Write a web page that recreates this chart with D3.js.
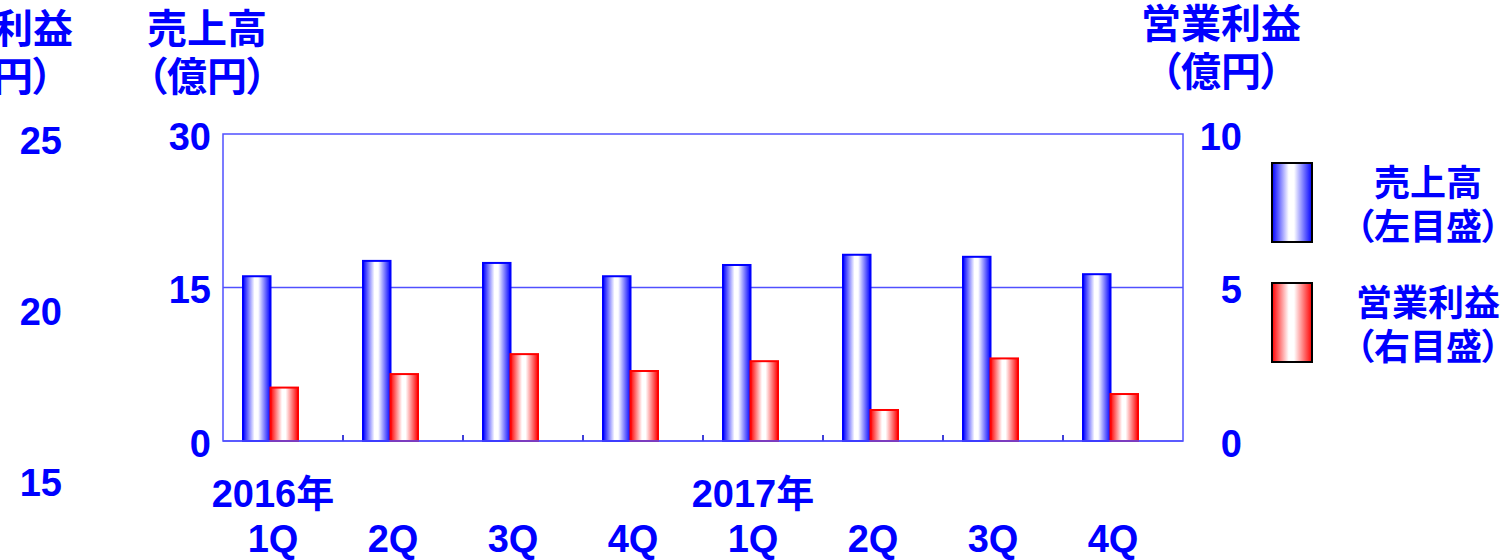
<!DOCTYPE html>
<html><head><meta charset="utf-8">
<script src="https://cdn.jsdelivr.net/npm/d3@7"></script>
<style>
html,body{margin:0;padding:0;background:#fff;}
text{font-family:"Liberation Sans","Noto Sans CJK JP",sans-serif;font-weight:bold;fill:#0000ff;font-feature-settings:"palt";}
</style></head><body>
<svg id="c" width="1504" height="560"></svg>
<script>
const quarters = ["1Q","2Q","3Q","4Q","1Q","2Q","3Q","4Q"];
const years = ["2016年","","","","2017年","","",""];
const sales = [16.1, 17.6, 17.4, 16.1, 17.2, 18.2, 18.0, 16.3];   // 売上高 (left axis)
const profit = [1.74, 2.18, 2.83, 2.28, 2.6, 1.01, 2.69, 1.53];  // 営業利益 (right axis)
const leftTicks = [0, 15, 30];
const rightTicks = [0, 5, 10];
const ghostTicks = [15, 20, 25];
const seriesNames = ["売上高", "営業利益"];
const legendSub = ["（左目盛）", "（右目盛）"];

const svg = d3.select("#c");
const L = 223, R = 1183, T = 134, B = 441;
const idx = d3.range(sales.length);
const x = d3.scaleBand().domain(idx).range([L, R]);
const xs = d3.scaleBand().domain([0, 1]).range([20, 75]);
const yL = d3.scaleLinear().domain([0, 30]).range([B, T]);
const yR = d3.scaleLinear().domain([0, 10]).range([B, T]);
const yG = d3.scaleLinear().domain([15, 25]).range([480, 138]);

const defs = svg.append("defs");
function grad(id, col) {
  const g = defs.append("linearGradient").attr("id", id).attr("x1", "0").attr("x2", "1").attr("y1", "0").attr("y2", "0");
  g.append("stop").attr("offset", "0").attr("stop-color", col);
  g.append("stop").attr("offset", "0.42").attr("stop-color", "#fff");
  g.append("stop").attr("offset", "0.55").attr("stop-color", "#fff");
  g.append("stop").attr("offset", "1").attr("stop-color", col);
}
grad("gb", "#0000ff");
grad("gr", "#ff0000");

// plot frame & grid
svg.append("rect").attr("x", L).attr("y", T).attr("width", R - L).attr("height", B - T)
  .attr("fill", "none").attr("stroke", "#5050ff").attr("stroke-width", 1.5);
svg.append("line").attr("x1", L).attr("x2", R).attr("y1", yL(15)).attr("y2", yL(15))
  .attr("stroke", "#5050ff").attr("stroke-width", 1.5);

// bars
svg.selectAll("rect.s").data(idx).join("rect").attr("class", "s")
  .attr("x", i => x(i) + xs(0)).attr("width", xs.bandwidth())
  .attr("y", i => yL(sales[i])).attr("height", i => B - yL(sales[i]))
  .attr("fill", "url(#gb)").attr("stroke", "#0000ff").attr("stroke-width", 2);
svg.selectAll("rect.p").data(idx).join("rect").attr("class", "p")
  .attr("x", i => x(i) + xs(1)).attr("width", xs.bandwidth())
  .attr("y", i => yR(profit[i])).attr("height", i => B - yR(profit[i]))
  .attr("fill", "url(#gr)").attr("stroke", "#ff0000").attr("stroke-width", 2);

// category tick marks
svg.selectAll("line.t").data(idx.slice(1)).join("line").attr("class", "t")
  .attr("x1", i => x(i)).attr("x2", i => x(i)).attr("y1", B).attr("y2", B - 6)
  .attr("stroke", "#0000cc").attr("stroke-width", 1.5);

// bottom line redraw
svg.append("line").attr("x1", L).attr("x2", R).attr("y1", B).attr("y2", B).attr("stroke", "#5050ff").attr("stroke-width", 1.5);

// axes
const axL = svg.append("g").attr("transform", `translate(${L - 12},0)`)
  .call(d3.axisLeft(yL).tickValues(leftTicks).tickSize(0).tickPadding(0));
const axR = svg.append("g").attr("transform", `translate(1242,0)`)
  .call(d3.axisLeft(yR).tickValues(rightTicks).tickSize(0).tickPadding(0));
const axG = svg.append("g").attr("transform", `translate(62,0)`)
  .call(d3.axisLeft(yG).tickValues(ghostTicks).tickSize(0).tickPadding(0));
[axL, axR, axG].forEach(a => {
  a.select(".domain").remove();
  a.selectAll("text").attr("font-size", 38).attr("fill", "#0000ff").attr("dy", "0.4em")
    .style("font-family", '"Liberation Sans","Noto Sans CJK JP",sans-serif').style("font-weight", "bold");
});
axL.selectAll("text").attr("dy", i => "0.4em");

// x labels
const cx = i => x(i) + 50;
svg.selectAll("text.q").data(idx).join("text").attr("class", "q")
  .attr("x", cx).attr("y", 552).attr("text-anchor", "middle").attr("font-size", 38).text(i => quarters[i]);
svg.selectAll("text.yr").data(idx.filter(i => years[i])).join("text").attr("class", "yr")
  .attr("x", cx).attr("y", 507).attr("text-anchor", "middle").attr("font-size", 38).text(i => years[i]);

// axis titles
function title(xc, y1, t1, y2, t2) {
  svg.append("text").attr("x", xc).attr("y", y1).attr("text-anchor", "middle").attr("font-size", 40).text(t1);
  svg.append("text").attr("x", xc).attr("y", y2).attr("text-anchor", "middle").attr("font-size", 40).text(t2);
}
title(207, 43, "売上高", 91, "（億円）");
title(1221, 38, "営業利益", 86, "（億円）");
title(-7, 43, "営業利益", 91, "（億円）");

// legend
const lg = svg.append("g");
[0, 1].forEach(k => {
  const y0 = k === 0 ? 163 : 283;
  lg.append("rect").attr("x", 1272).attr("y", y0).attr("width", 40).attr("height", 79)
    .attr("fill", k === 0 ? "url(#gb)" : "url(#gr)").attr("stroke", "#000").attr("stroke-width", 2);
  lg.append("text").attr("x", 1428).attr("y", y0 + 33).attr("text-anchor", "middle").attr("font-size", 36).text(seriesNames[k]);
  lg.append("text").attr("x", 1428).attr("y", y0 + 77).attr("text-anchor", "middle").attr("font-size", 36).text(legendSub[k]);
});
</script></body></html>
